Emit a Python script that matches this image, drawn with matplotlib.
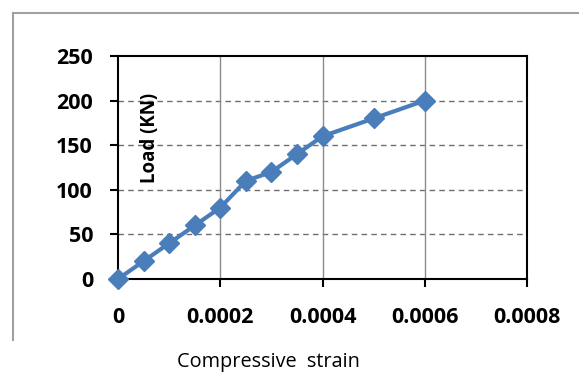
import matplotlib
matplotlib.use("Agg")
import matplotlib.pyplot as plt
from matplotlib.lines import Line2D

strain = [0, 0.00005, 0.0001, 0.00015, 0.0002, 0.00025, 0.0003, 0.00035, 0.0004, 0.0005, 0.0006]
load = [0, 20, 40, 60, 80, 110, 120, 140, 160, 180, 200]
xticks = [0, 0.0002, 0.0004, 0.0006, 0.0008]
xticklabels = ["0", "0.0002", "0.0004", "0.0006", "0.0008"]
yticks = [0, 50, 100, 150, 200, 250]

plt.rcParams['font.family'] = ['Open Sans', 'DejaVu Sans']

fig = plt.figure(figsize=(5.79, 3.76), dpi=100)
ax = fig.add_axes([118/579, 1-279/376, (527-118)/579, (279-56)/376])

color = '#4A7EBB'
ax.plot(strain, load, color=color, lw=3, marker='D', markersize=10.5, clip_on=False, zorder=5)

ax.set_xlim(0, 0.0008)
ax.set_ylim(0, 250)
ax.set_xticks(xticks)
ax.set_xticklabels(xticklabels)
ax.set_yticks(yticks)

for v in [50, 100, 150, 200]:
    ax.axhline(v, color='#707070', lw=1, ls=(0, (4, 3)), zorder=1)
for v in [0.0002, 0.0004, 0.0006]:
    ax.axvline(v, color='#8c8c8c', lw=1, zorder=1)

for s in ax.spines.values():
    s.set_color('black')
    s.set_linewidth(1.5)

ax.tick_params(axis='both', direction='out', length=6, width=1.5, colors='black', labelsize=15.5)
ax.tick_params(axis='x', pad=14)
ax.tick_params(axis='y', pad=12)
for lab in ax.get_xticklabels() + ax.get_yticklabels():
    lab.set_fontweight('bold')

ax.text(0.0000635, 158, 'Load (KN)', rotation=90, ha='center', va='center',
        fontsize=13.5, fontweight='bold')

fig.text(268/579, 1-362/376, 'Compressive  strain', ha='center', va='center', fontsize=14.3)

fig.add_artist(Line2D([13/579, 1], [1-13/376, 1-13/376], color='#a0a0a0', lw=1.5))
fig.add_artist(Line2D([13/579, 13/579], [1-13/376, 1-340/376], color='#a0a0a0', lw=1.5))

fig.savefig('out.png', dpi=100)
